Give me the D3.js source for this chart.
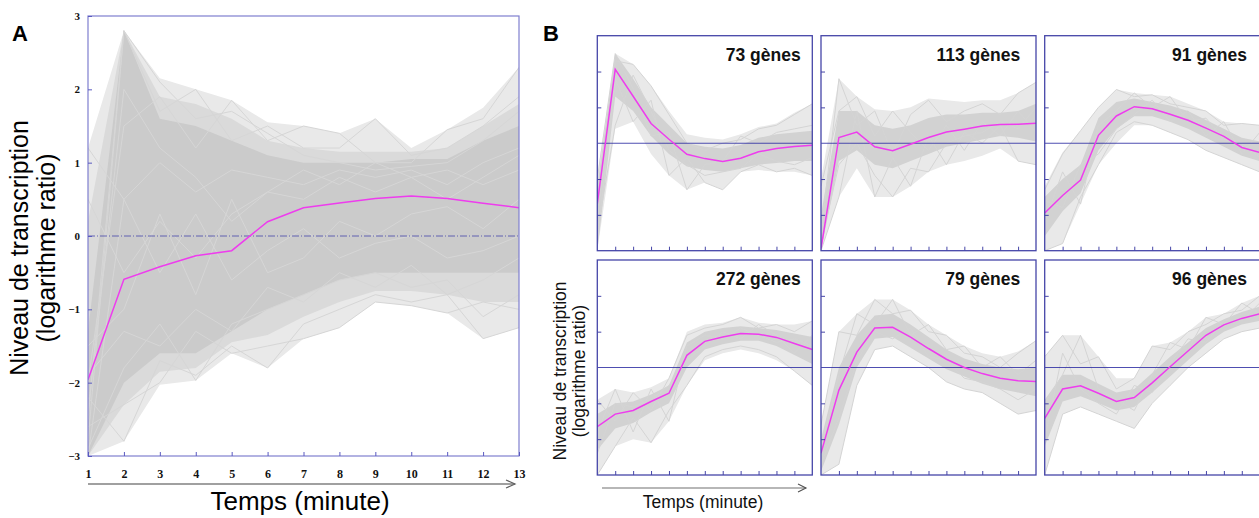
<!DOCTYPE html>
<html><head><meta charset="utf-8">
<script src="https://cdn.jsdelivr.net/npm/d3@7"></script>
<style>body{margin:0;background:#fff} svg{display:block}</style>
</head><body>
<svg id="c" width="1259" height="518"></svg>
<script>
// ---------- DATA ----------
const times = [1,2,3,4,5,6,7,8,9,10,11,12,13];
const yTicksA = [-3,-2,-1,0,1,2,3];
const yTicksB = [-2,-1,1,2];
const xTicksB = [2,3,4,5,6,7,8,9,10,11,12];

// Panel A (all genes)
const meanA    = [-1.96,-0.59,-0.42,-0.27,-0.20,0.195,0.386,0.45,0.51,0.545,0.51,0.445,0.386];
const hiA      = [1.2,2.8,2.15,2.0,1.85,1.55,1.5,1.4,1.6,1.2,1.45,1.75,2.3];
const loA      = [-3,-2.8,-2.03,-1.97,-1.6,-1.8,-1.4,-1.25,-0.9,-0.95,-1.05,-1.4,-1.25];
const midHiA   = [0.2,2.8,1.9,1.8,1.6,1.3,1.2,1.15,1.15,1.15,1.2,1.5,1.8];
const midLoA   = [-3,-2.3,-1.85,-1.8,-1.45,-1.35,-1.1,-0.9,-0.75,-0.75,-0.8,-0.9,-0.9];
const coreHiA  = [-1.3,2.8,1.6,1.5,1.3,1.1,1.0,1.0,1.0,1.05,1.05,1.3,1.5];
const coreLoA  = [-3,-2.0,-1.6,-1.6,-1.3,-1.0,-0.8,-0.6,-0.5,-0.5,-0.5,-0.5,-0.5];
const linesA = [
  [-2.5,2.8,2.1,1.6,1.7,1.4,1.1,1.0,0.9,0.95,1.0,1.3,1.7],
  [-2.8,2.8,1.7,2.0,1.3,1.5,1.2,1.2,1.6,1.1,1.2,1.5,1.9],
  [-2.0,1.5,1.9,1.2,1.85,1.3,1.5,1.4,1.0,1.0,1.45,1.6,2.3],
  [1.2,0.5,1.0,0.6,0.9,0.8,0.7,0.9,0.8,0.9,0.7,1.0,1.2],
  [0.5,-0.5,0.2,-0.3,0.3,0.6,0.5,0.8,0.6,0.8,0.9,0.7,0.9],
  [-2.2,-2.8,-1.7,-1.9,-1.5,-1.8,-1.2,-1.0,-0.8,-0.9,-0.8,-1.4,-1.25],
  [-2.6,-2.3,-2.0,-1.3,-1.6,-1.5,-1.4,-1.25,-0.9,-0.95,-1.05,-0.9,-1.0],
  [-2.9,-1.8,-1.2,-1.97,-1.2,-1.0,-0.8,-0.6,-0.5,-0.7,-0.6,-1.1,-0.8],
  [-3.0,0.5,-0.5,0.3,-0.6,-0.2,0.1,-0.3,-0.1,0.0,-0.3,-0.2,0.0],
  [-1.5,-1.0,0.3,-0.8,0.5,-0.5,-0.3,0.2,0.0,0.3,0.4,0.1,0.5],
  [-2.4,2.0,1.2,0.8,0.2,0.6,0.9,0.7,1.0,0.8,0.5,0.8,1.1],
  [-1.9,-1.3,-1.5,-1.0,-1.3,-0.7,-0.9,-0.5,-0.7,-0.4,-0.8,-0.6,-0.3]
];

// Panel B clusters
const clusterLabels = ["73 gènes","113 gènes","91 gènes","272 gènes","79 gènes","96 gènes"];
const meanB = [
  [-1.69,2.06,1.31,0.55,0.11,-0.31,-0.43,-0.51,-0.42,-0.24,-0.15,-0.09,-0.06],
  [-2.94,0.16,0.31,-0.10,-0.21,-0.03,0.16,0.31,0.39,0.48,0.52,0.53,0.56],
  [-1.95,-1.46,-1.03,0.22,0.76,1.02,0.96,0.81,0.64,0.42,0.19,-0.12,-0.26],
  [-1.65,-1.30,-1.20,-0.95,-0.72,0.34,0.73,0.85,0.95,0.93,0.84,0.67,0.50],
  [-2.39,-0.63,0.43,1.10,1.12,0.85,0.53,0.23,0.00,-0.17,-0.30,-0.37,-0.39],
  [-1.42,-0.60,-0.51,-0.72,-0.95,-0.84,-0.43,0.02,0.46,0.90,1.19,1.37,1.50]
];
const hiB = [
  [-0.9,2.5,2.2,1.6,0.9,0.25,0.15,0.1,0.25,0.45,0.55,0.85,1.1],
  [-1.0,1.8,1.3,0.95,0.9,1.0,1.25,1.2,1.15,1.2,1.2,1.4,1.7],
  [-1.2,-0.25,0.35,1.0,1.5,1.4,1.35,1.3,1.1,0.9,0.6,0.55,0.5],
  [-0.9,-0.6,-0.7,-0.55,-0.3,1.0,1.2,1.25,1.4,1.25,1.2,1.2,1.3],
  [-1.6,1.0,1.5,1.9,1.9,1.6,1.2,0.9,0.6,0.4,0.3,0.45,0.75],
  [0.3,0.9,0.9,0.3,-0.3,-0.3,0.6,0.7,1.0,1.4,1.5,1.8,2.0]
];
const loB = [
  [-3,0.4,0.6,-0.3,-0.9,-1.3,-1.1,-1.3,-0.8,-0.75,-0.8,-0.8,-0.9],
  [-3,-1.5,-0.7,-1.5,-1.5,-1.2,-0.8,-0.6,-0.5,-0.35,-0.15,-0.5,-0.6],
  [-3,-2.8,-1.7,-0.6,0.0,0.5,0.5,0.3,0.1,-0.2,-0.4,-0.6,-0.8],
  [-3,-2.2,-2.0,-2.1,-1.5,-0.5,0.2,0.4,0.5,0.4,0.2,-0.1,-0.5],
  [-3,-2.7,-0.5,0.5,0.6,0.3,0.0,-0.4,-0.6,-0.7,-1.0,-1.3,-1.2],
  [-3,-1.3,-1.1,-1.3,-1.5,-1.7,-1.0,-0.5,0.0,0.4,0.8,1.0,1.1]
];
const coreHiB = [
  [-1.2,2.5,1.8,1.0,0.5,0.0,-0.1,-0.15,-0.05,0.15,0.25,0.3,0.35],
  [-2.0,0.9,0.9,0.5,0.4,0.5,0.7,0.8,0.8,0.85,0.85,0.9,1.1],
  [-1.5,-1.0,-0.6,0.7,1.15,1.25,1.15,1.05,0.9,0.65,0.4,0.15,0.05],
  [-1.3,-1.0,-0.95,-0.75,-0.5,0.7,1.0,1.1,1.15,1.1,1.05,0.95,0.85],
  [-2.0,0.0,0.9,1.45,1.5,1.2,0.85,0.5,0.25,0.1,0.0,-0.05,0.0],
  [-0.9,-0.2,-0.2,-0.45,-0.7,-0.6,-0.15,0.3,0.7,1.1,1.35,1.55,1.7]
];
const coreLoB = [
  [-3,1.3,0.9,0.2,-0.3,-0.65,-0.75,-0.8,-0.7,-0.6,-0.55,-0.5,-0.5],
  [-3,-0.5,-0.2,-0.6,-0.7,-0.5,-0.3,-0.1,0.0,0.1,0.2,0.15,0.05],
  [-2.6,-1.9,-1.4,-0.2,0.4,0.75,0.75,0.6,0.4,0.15,-0.1,-0.35,-0.5],
  [-2.3,-1.7,-1.55,-1.25,-1.0,0.0,0.5,0.65,0.75,0.75,0.6,0.35,0.1],
  [-2.9,-1.6,0.0,0.8,0.85,0.55,0.25,-0.05,-0.25,-0.45,-0.6,-0.7,-0.8],
  [-2.2,-0.95,-0.8,-1.0,-1.2,-1.1,-0.7,-0.25,0.2,0.65,1.0,1.2,1.3]
];
const linesB = [
  [[-2.2,2.3,2.2,1.6,0.8,0.0,-0.2,0.0,0.1,0.4,0.5,0.8,1.1],
   [-2.8,1.8,0.6,1.2,-0.9,-0.4,-1.1,-1.3,-0.8,-0.6,-0.8,-0.7,-0.9],
   [-1.0,2.5,1.5,0.2,0.3,-1.3,-0.6,-0.5,0.2,0.0,0.3,0.4,0.5],
   [-2.5,0.5,1.9,0.9,-0.2,-0.6,-0.9,-0.8,-0.7,-0.3,-0.5,-0.6,-0.4]],
  [[-2.5,1.8,0.5,0.9,-0.3,0.8,1.2,0.6,0.9,1.1,0.8,1.4,1.7],
   [-3.0,-1.5,0.9,-1.5,-0.4,-1.2,0.2,-0.6,0.3,0.0,0.5,-0.5,-0.6],
   [-1.2,0.9,1.3,0.2,0.9,0.3,-0.2,0.5,-0.2,0.6,0.2,0.9,0.3],
   [-2.8,-0.6,0.0,-0.9,-1.5,-0.7,-0.8,0.0,0.2,0.3,0.6,0.4,1.0]],
  [[-1.3,-0.3,0.35,1.0,1.5,1.3,1.35,1.1,1.0,0.9,0.5,0.55,0.5],
   [-3.0,-2.8,-1.5,-0.6,0.3,0.6,0.5,0.3,0.1,-0.2,-0.4,-0.6,-0.8],
   [-2.2,-0.8,-1.7,0.5,0.9,1.4,1.0,1.3,0.6,0.7,0.1,0.0,-0.4],
   [-1.6,-1.8,-0.6,-0.3,0.4,0.8,1.2,0.6,0.9,0.2,0.6,-0.3,0.3]],
  [[-0.9,-1.5,-0.7,-1.2,-0.3,0.9,1.1,1.2,1.4,1.1,1.2,1.0,1.3],
   [-3.0,-2.2,-1.4,-2.1,-1.2,-0.5,0.3,0.5,0.6,0.5,0.3,-0.1,-0.5],
   [-1.8,-0.6,-1.8,-0.6,-1.5,0.6,0.9,0.8,1.1,0.9,0.7,0.8,0.6],
   [-2.4,-1.0,-1.1,-0.9,-0.5,0.2,0.6,1.0,0.8,1.2,0.9,0.4,0.9]],
  [[-1.6,1.0,0.9,1.9,1.5,1.6,1.0,0.9,0.4,0.3,0.0,0.4,0.75],
   [-3.0,-2.7,-0.5,0.5,0.6,0.3,0.0,-0.4,-0.6,-0.7,-1.0,-1.3,-1.2],
   [-2.2,-0.2,1.5,1.2,1.9,0.9,1.2,0.5,0.6,0.0,0.3,-0.2,0.2],
   [-2.7,-1.4,0.2,1.0,0.8,1.1,0.3,0.2,-0.3,-0.4,-0.6,-0.9,-0.6]],
  [[0.3,0.9,0.1,0.3,-0.6,-0.3,0.6,0.5,1.0,1.2,1.5,1.6,2.0],
   [-3.0,-1.3,-1.1,-1.3,-1.5,-1.7,-1.0,-0.5,0.0,0.4,0.8,1.0,1.1],
   [-1.0,-0.2,0.9,-0.6,-0.9,-1.2,-0.2,0.7,0.5,1.4,1.2,1.8,1.5],
   [-2.0,0.4,-0.6,-1.0,-1.3,-0.5,-0.7,0.1,0.8,0.7,1.3,1.3,1.8]]
];

// ---------- LAYOUT ----------
const sans = "Liberation Sans, Arial, sans-serif";
const serif = "Liberation Serif, Times New Roman, serif";
const MAGENTA = "#ee3cee";
const svg = d3.select("#c");
const defs = svg.append("defs");

function band(x, y, h, l) {
  return d3.area().x((d, i) => x(times[i])).y0((d, i) => y(l[i])).y1((d, i) => y(h[i]))(times);
}
function drawGray(g, x, y, layers, lines, lineCol) {
  layers.forEach(b => g.append("path").attr("d", band(x, y, b.hi, b.lo)).attr("fill", b.fill));
  const line = d3.line().x((d, i) => x(times[i])).y(d => y(d));
  g.selectAll("path.gl").data(lines).join("path").attr("class", "gl")
    .attr("d", line).attr("fill", "none").attr("stroke", lineCol).attr("stroke-width", 1);
}

// ----- Panel A -----
(function () {
  const L = {x0: 88, x1: 519, y0: 16, y1: 456};
  const x = d3.scaleLinear().domain([1, 13]).range([L.x0, L.x1]);
  const y = d3.scaleLinear().domain([-3, 3]).range([L.y1, L.y0]);
  defs.append("clipPath").attr("id", "clipA").append("rect")
    .attr("x", L.x0).attr("y", L.y0).attr("width", L.x1 - L.x0).attr("height", L.y1 - L.y0);
  const g = svg.append("g");
  const gc = g.append("g").attr("clip-path", "url(#clipA)");
  drawGray(gc, x, y, [
    {hi: hiA, lo: loA, fill: "#e9e9e9"},
    {hi: midHiA, lo: midLoA, fill: "#dadada"},
    {hi: coreHiA, lo: coreLoA, fill: "#cbcbcb"}
  ], linesA, "#d6d6d6");
  gc.append("line").attr("x1", L.x0).attr("x2", L.x1).attr("y1", y(0)).attr("y2", y(0))
    .attr("stroke", "#3434a6").attr("stroke-width", 1).attr("stroke-dasharray", "7,2,1,2").attr("opacity", 0.7);
  gc.append("path").datum(meanA)
    .attr("d", d3.line().x((d, i) => x(times[i])).y(d => y(d)))
    .attr("fill", "none").attr("stroke", MAGENTA).attr("stroke-width", 1.5);
  g.append("rect").attr("x", L.x0).attr("y", L.y0).attr("width", L.x1 - L.x0).attr("height", L.y1 - L.y0)
    .attr("fill", "none").attr("stroke", "#7f7fcf").attr("stroke-width", 1.2);
  const ya = g.append("g").attr("transform", `translate(${L.x0},0)`)
    .call(d3.axisLeft(y).tickValues(yTicksA).tickSizeInner(-4).tickSizeOuter(0).tickPadding(8).tickFormat(d3.format("d")));
  const xa = g.append("g").attr("transform", `translate(0,${L.y1})`)
    .call(d3.axisBottom(x).tickValues(times).tickSizeInner(-4).tickSizeOuter(0).tickPadding(13).tickFormat(d3.format("d")));
  [ya, xa].forEach(a => {
    a.select(".domain").remove();
    a.selectAll("line").attr("stroke", "#5a5ac0");
    a.selectAll("text").attr("font-family", serif).attr("font-weight", "bold").attr("fill", "#111");
  });
  ya.selectAll("text").attr("font-size", 11);
  xa.selectAll("text").attr("font-size", 12);
  // arrow
  const ay = 484, ax0 = L.x0, ax1 = L.x1 - 4;
  g.append("line").attr("x1", ax0).attr("x2", ax1).attr("y1", ay).attr("y2", ay)
    .attr("stroke", "#808080").attr("stroke-width", 1.5);
  g.append("polyline").attr("points", `${ax1 - 9},${ay - 4} ${ax1},${ay} ${ax1 - 9},${ay + 4}`)
    .attr("fill", "none").attr("stroke", "#606060").attr("stroke-width", 1.2);
  g.append("text").attr("x", 300).attr("y", 510).attr("text-anchor", "middle")
    .attr("font-family", sans).attr("font-size", 26).attr("fill", "#000").text("Temps (minute)");
  const yl = g.append("g").attr("font-family", sans).attr("font-size", 25).attr("fill", "#000").attr("text-anchor", "middle");
  yl.append("text").attr("transform", "translate(28,248) rotate(-90)").text("Niveau de transcription");
  yl.append("text").attr("transform", "translate(55,248) rotate(-90)").text("(logarithme ratio)");
  svg.append("text").attr("x", 12).attr("y", 41).attr("font-family", sans).attr("font-weight", "bold")
    .attr("font-size", 22).text("A");
})();

// ----- Panel B -----
(function () {
  const colX = [597.3, 821, 1044.7], rowY = [35.7, 260], W = 215, H = 215;
  const labelInset = [11.6, 15.8, 12.7];
  clusterLabels.forEach((lab, k) => {
    const c = k % 3, r = Math.floor(k / 3);
    const L = {x0: colX[c], x1: colX[c] + W, y0: rowY[r], y1: rowY[r] + H};
    const x = d3.scaleLinear().domain([1, 13]).range([L.x0, L.x1]);
    const y = d3.scaleLinear().domain([-3, 3]).range([L.y1, L.y0]);
    const id = "clipB" + k;
    defs.append("clipPath").attr("id", id).append("rect")
      .attr("x", L.x0).attr("y", L.y0).attr("width", W).attr("height", H);
    const g = svg.append("g");
    const gc = g.append("g").attr("clip-path", `url(#${id})`);
    drawGray(gc, x, y, [
      {hi: hiB[k], lo: loB[k], fill: "#e9e9e9"},
      {hi: coreHiB[k], lo: coreLoB[k], fill: "#d2d2d2"}
    ], linesB[k], "#d4d4d4");
    gc.append("line").attr("x1", L.x0).attr("x2", L.x1).attr("y1", y(0)).attr("y2", y(0))
      .attr("stroke", "#3030a4").attr("stroke-width", 1.1).attr("opacity", 0.85);
    gc.append("path").datum(meanB[k])
      .attr("d", d3.line().x((d, i) => x(times[i])).y(d => y(d)))
      .attr("fill", "none").attr("stroke", MAGENTA).attr("stroke-width", 1.5);
    g.append("rect").attr("x", L.x0).attr("y", L.y0).attr("width", W).attr("height", H)
      .attr("fill", "none").attr("stroke", "#4646a8").attr("stroke-width", 1.3);
    const ya = g.append("g").attr("transform", `translate(${L.x0},0)`)
      .call(d3.axisLeft(y).tickValues(yTicksB).tickSizeInner(-4).tickSizeOuter(0).tickFormat(""));
    const xa = g.append("g").attr("transform", `translate(0,${L.y1})`)
      .call(d3.axisBottom(x).tickValues(xTicksB).tickSizeInner(-4).tickSizeOuter(0).tickFormat(""));
    [ya, xa].forEach(a => { a.select(".domain").remove(); a.selectAll("line").attr("stroke", "#4646a8"); });
    g.append("text").attr("x", L.x1 - labelInset[c]).attr("y", L.y0 + 25).attr("text-anchor", "end")
      .attr("font-family", sans).attr("font-weight", "bold").attr("font-size", 17.5).attr("fill", "#111").text(lab);
  });
  svg.append("text").attr("x", 543).attr("y", 41).attr("font-family", sans).attr("font-weight", "bold")
    .attr("font-size", 22).text("B");
  const yl = svg.append("g").attr("font-family", sans).attr("font-size", 17.5).attr("fill", "#111").attr("text-anchor", "middle");
  yl.append("text").attr("transform", "translate(566,371) rotate(-90)").text("Niveau de transcription");
  yl.append("text").attr("transform", "translate(585,371) rotate(-90)").text("(logarithme ratio)");
  const ay = 488, ax0 = 602, ax1 = 806;
  svg.append("line").attr("x1", ax0).attr("x2", ax1).attr("y1", ay).attr("y2", ay)
    .attr("stroke", "#707070").attr("stroke-width", 1.2);
  svg.append("polyline").attr("points", `${ax1 - 8},${ay - 4} ${ax1},${ay} ${ax1 - 8},${ay + 4}`)
    .attr("fill", "none").attr("stroke", "#505050").attr("stroke-width", 1.1);
  svg.append("text").attr("x", 703).attr("y", 508).attr("text-anchor", "middle")
    .attr("font-family", sans).attr("font-size", 17.5).attr("fill", "#111").text("Temps (minute)");
})();
</script>
</body></html>
